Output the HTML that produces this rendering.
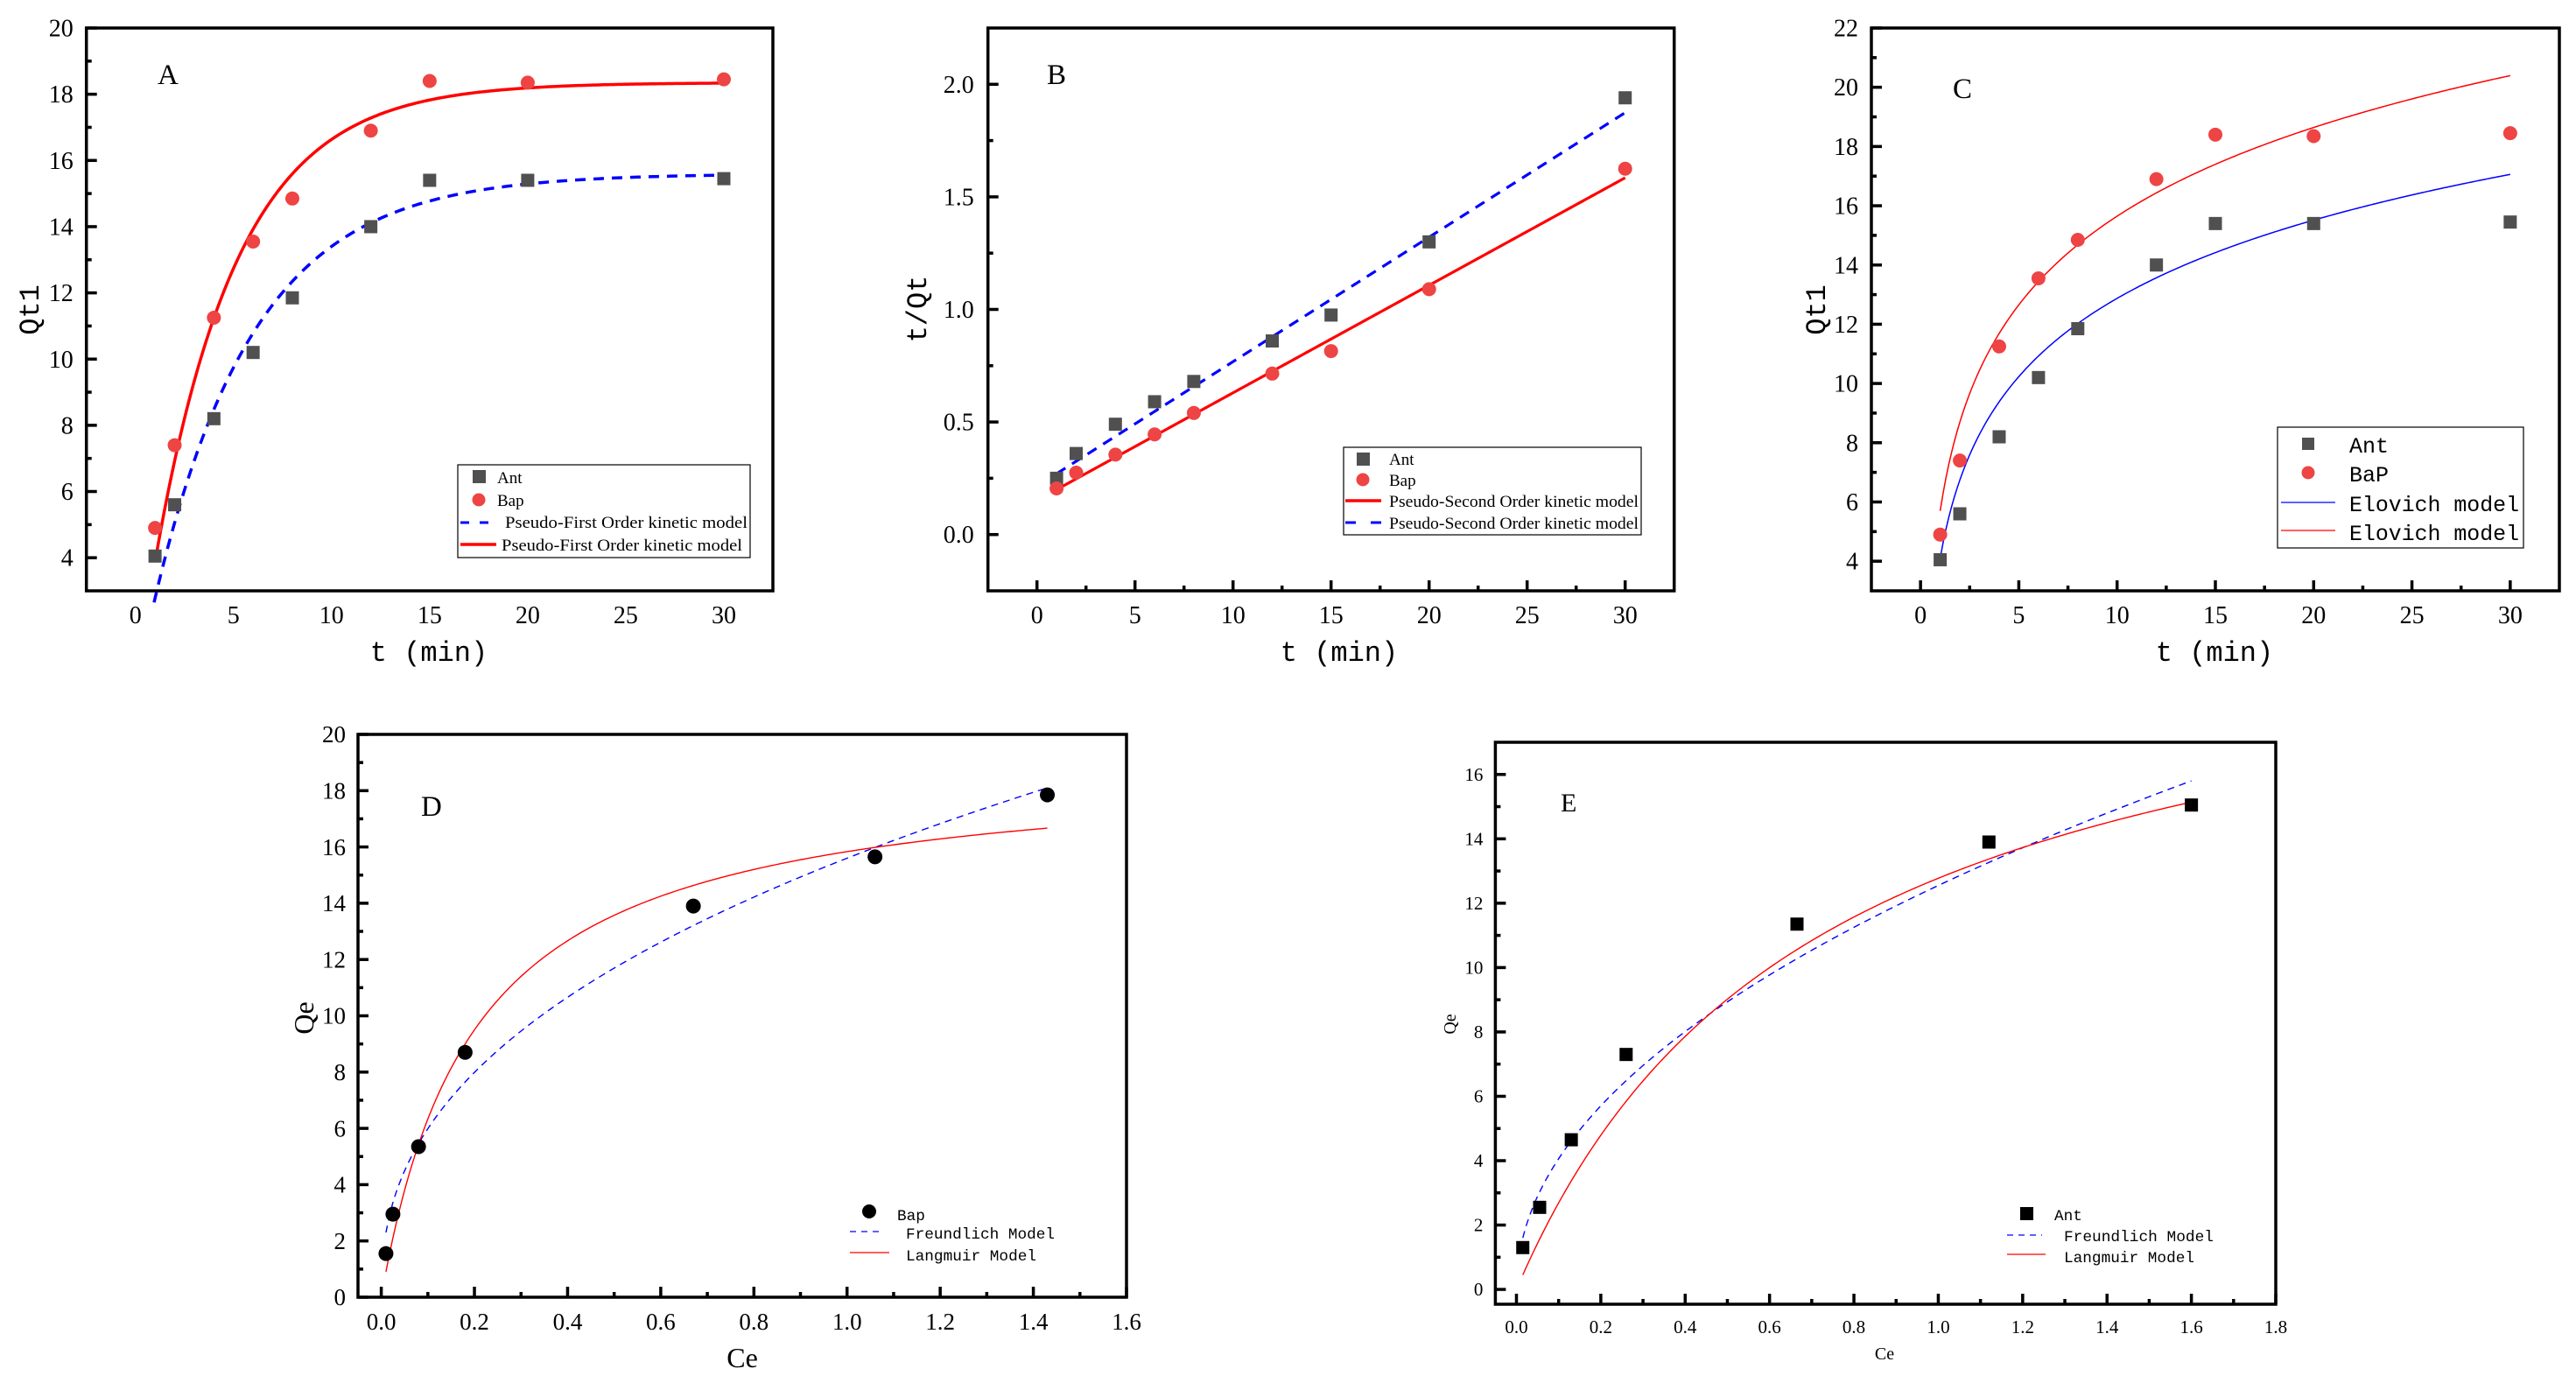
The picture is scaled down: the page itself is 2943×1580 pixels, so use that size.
<!DOCTYPE html>
<html><head><meta charset="utf-8">
<style>
html,body{margin:0;padding:0;background:#fff;}
svg{display:block;}
</style></head>
<body>
<svg id="fig" width="2943" height="1580" viewBox="0 0 2943 1580" xmlns="http://www.w3.org/2000/svg"></svg>
<script>
// ---------- data ----------
const timeMin = [1, 2, 4, 6, 8, 12, 15, 20, 30];
const antQt = [4.05, 5.6, 8.2, 10.2, 11.85, 14.0, 15.4, 15.4, 15.45];
const bapQt = [4.9, 7.4, 11.25, 13.55, 14.85, 16.9, 18.4, 18.35, 18.45];
const antTQt = [0.25, 0.36, 0.49, 0.59, 0.68, 0.86, 0.975, 1.30, 1.94];
const bapTQt = [0.205, 0.275, 0.355, 0.445, 0.54, 0.715, 0.815, 1.09, 1.625];
// model parameters
const pfoAnt = [15.6, 0.196];      // qe, k1
const pfoBap = [18.35, 0.237];
const psoAnt = [0.0553, 0.215];    // slope, intercept
const psoBap = [0.04776, 0.152];
const elovichAnt = [4.1, 3.81];    // a, b
const elovichBap = [5.7, 4.32];
const bapCe = [0.01, 0.025, 0.08, 0.18, 0.67, 1.06, 1.43];
const bapQe = [1.55, 2.95, 5.35, 8.7, 13.9, 15.65, 17.85];
const antCe = [0.015, 0.055, 0.13, 0.26, 0.665, 1.12, 1.6];
const antQe = [1.3, 2.55, 4.65, 7.3, 11.35, 13.9, 15.05];
const langBap = [19.0, 5.0];       // Qm, K
const freBap = [15.6, 0.4157];     // Kf, 1/n
const langAnt = [21.9, 1.4];
const freAnt = [12.55, 0.49];
const tickT = [0, 5, 10, 15, 20, 25, 30];
const tickA = [4, 6, 8, 10, 12, 14, 16, 18, 20];
const tickB = [0.0, 0.5, 1.0, 1.5, 2.0];
const tickC = [4, 6, 8, 10, 12, 14, 16, 18, 20, 22];
const tickDx = [0.0, 0.2, 0.4, 0.6, 0.8, 1.0, 1.2, 1.4, 1.6];
const tickDy = [0, 2, 4, 6, 8, 10, 12, 14, 16, 18, 20];
const tickEx = [0.0, 0.2, 0.4, 0.6, 0.8, 1.0, 1.2, 1.4, 1.6, 1.8];
const tickEy = [0, 2, 4, 6, 8, 10, 12, 14, 16];

const NS = 'http://www.w3.org/2000/svg';
const svg = document.getElementById('fig');
function mk(tag, attrs, parent){
  const e = document.createElementNS(NS, tag);
  for (const k in attrs) e.setAttribute(k, attrs[k]);
  (parent || svg).appendChild(e);
  return e;
}
function scale(d0, d1, r0, r1){ return v => r0 + (v - d0) * (r1 - r0) / (d1 - d0); }
function fmt(v, dec){ return dec ? v.toFixed(dec) : String(v); }

function axes(p){
  const g = mk('g', {});
  
  
  p.g = g;
  p.sx = scale(p.xd[0], p.xd[1], p.x0, p.x1);
  p.sy = scale(p.yd[0], p.yd[1], p.y1, p.y0);
  const fr = mk('rect', {x:p.x0, y:p.y0, width:p.x1-p.x0, height:p.y1-p.y0, fill:'none', stroke:'#000', 'stroke-width':p.bw}, g);
  
  
  // y ticks
  p.yt.forEach((v, i) => {
    const y = p.sy(v);
    mk('line', {x1:p.x0, x2:p.x0+p.tl, y1:y, y2:y, stroke:'#000', 'stroke-width':p.bw}, g);
    const t = mk('text', {x:p.x0-p.ylOff, y:y+p.fs*0.34, 'text-anchor':'end', 'font-family':'Liberation Serif, serif', 'font-size':p.fs}, g);
    t.textContent = fmt(v, p.ydec);
    
    
    if (i < p.yt.length - 1){
      const ym = p.sy((v + p.yt[i+1]) / 2);
      mk('line', {x1:p.x0, x2:p.x0+p.tl/2, y1:ym, y2:ym, stroke:'#000', 'stroke-width':p.bw}, g);
    }
  });
  p.xt.forEach((v, i) => {
    const x = p.sx(v);
    if (p.xticks){
      mk('line', {x1:x, x2:x, y1:p.y1, y2:p.y1-p.tl, stroke:'#000', 'stroke-width':p.bw}, g);
      if (i < p.xt.length - 1){
        const xm = p.sx((v + p.xt[i+1]) / 2);
        mk('line', {x1:xm, x2:xm, y1:p.y1, y2:p.y1-p.tl/2, stroke:'#000', 'stroke-width':p.bw}, g);
      }
    }
    const t = mk('text', {x:x, y:p.xlBase, 'text-anchor':'middle', 'font-family':'Liberation Serif, serif', 'font-size':p.fs}, g);
    t.textContent = fmt(v, p.xdec);
    
    
  });
  const xt = mk('text', {x:p.xtX, y:p.xtY, 'text-anchor':'middle', 'font-family':p.titleFont, 'font-size':p.tfs}, g);
  xt.textContent = p.xtitle;
  
  
  const yt = mk('text', {x:0, y:0, 'text-anchor':'middle', 'font-family':p.titleFont, 'font-size':p.tfs, transform:'translate('+p.ytX+','+p.ytY+') rotate(-90)'}, g);
  yt.textContent = p.ytitle;
  
  
  const pl = mk('text', {x:p.plX, y:p.plY, 'font-family':'Liberation Serif, serif', 'font-size':p.plS}, g);
  pl.textContent = p.label;
  
  
  return p;
}
function curve(p, f, xa, xb, attrs, name){
  let d = '';
  for (let i = 0; i <= 200; i++){
    const x = xa + (xb - xa) * i / 200;
    d += (i ? 'L' : 'M') + p.sx(x).toFixed(2) + ',' + p.sy(f(x)).toFixed(2);
  }
  const e = mk('path', Object.assign({d:d, fill:'none'}, attrs), p.g);
  
  
}
function points(p, xs, ys, shape, size, color, name){
  xs.forEach((x, i) => {
    const cx = p.sx(x), cy = p.sy(ys[i]);
    let e;
    if (shape === 's') e = mk('rect', {x:cx-size/2, y:cy-size/2, width:size, height:size, fill:color}, p.g);
    else e = mk('circle', {cx:cx, cy:cy, r:size/2, fill:color}, p.g);
    
    
  });
}
function legendText(g, x, y, s, txt, font, len){
  const t = mk('text', {x:x, y:y, 'font-family':font, 'font-size':s}, g);
  if (len) { t.setAttribute('textLength', len); t.setAttribute('lengthAdjust', 'spacingAndGlyphs'); }
  t.textContent = txt;
  
  
}
const GRAY = '#505050', RED = '#ee4444';
const serif = 'Liberation Serif, serif', mono = 'Liberation Mono, monospace';

// ---------- Panel A ----------
const A = axes({name:'panel-a-pseudo-first-order', x0:98.7, x1:883, y0:32, y1:675, xd:[-2.5,32.5], yd:[3,20],
  xt:tickT, yt:tickA, xticks:false, bw:3.5, tl:12, fs:28, ylOff:15, xlBase:712,
  xtitle:'t (min)', ytitle:'Qt1', titleFont:mono, tfs:32, xtX:490, xtY:755, ytX:44, ytY:354,
  label:'A', plX:180, plY:96, plS:33});
curve(A, t => pfoAnt[0]*(1-Math.exp(-pfoAnt[1]*t)), 0.95, 30, {stroke:'#0000ff','stroke-width':3.5,'stroke-dasharray':'12,9'}, 'ant-pseudo-first-order-fit');
curve(A, t => pfoBap[0]*(1-Math.exp(-pfoBap[1]*t)), 1, 30, {stroke:'#ff0000','stroke-width':3.5}, 'bap-pseudo-first-order-fit');
points(A, timeMin, antQt, 's', 15, GRAY, 'ant-point');
points(A, timeMin, bapQt, 'c', 16, RED, 'bap-point');
(function(){
  const g = mk('g', {}, A.g);
  
  
  mk('rect', {x:523, y:531, width:334, height:106, fill:'#fff', stroke:'#000', 'stroke-width':1.2}, g);
  mk('rect', {x:540, y:537, width:15, height:15, fill:GRAY}, g);
  mk('circle', {cx:547, cy:571, r:7.5, fill:RED}, g);
  mk('line', {x1:526, x2:563, y1:597, y2:597, stroke:'#0000ff', 'stroke-width':3, 'stroke-dasharray':'10,12'}, g);
  mk('line', {x1:526, x2:567, y1:622, y2:622, stroke:'#ff0000', 'stroke-width':3.5}, g);
  legendText(g, 568, 552, 19, 'Ant', serif);
  legendText(g, 568, 578, 19, 'Bap', serif);
  legendText(g, 577, 603, 19, 'Pseudo-First Order kinetic model', serif, 277);
  legendText(g, 573, 629, 19, 'Pseudo-First Order kinetic model', serif, 275);
})();

// ---------- Panel B ----------
const B = axes({name:'panel-b-pseudo-second-order', x0:1128.7, x1:1912.7, y0:32, y1:675, xd:[-2.5,32.5], yd:[-0.25,2.25],
  xt:tickT, yt:tickB, xticks:true, bw:3.5, tl:12, fs:28, ylOff:16, xlBase:712, ydec:1,
  xtitle:'t (min)', ytitle:'t/Qt', titleFont:mono, tfs:32, xtX:1530, xtY:755, ytX:1058, ytY:353,
  label:'B', plX:1196, plY:96, plS:33});
curve(B, t => psoAnt[0]*t + psoAnt[1], 1, 30, {stroke:'#0000ff','stroke-width':3.2,'stroke-dasharray':'12,9'}, 'ant-pseudo-second-order-fit');
curve(B, t => psoBap[0]*t + psoBap[1], 1, 30, {stroke:'#ff0000','stroke-width':3.2}, 'bap-pseudo-second-order-fit');
points(B, timeMin, antTQt, 's', 15, GRAY, 'ant-point');
points(B, timeMin, bapTQt, 'c', 16, RED, 'bap-point');
(function(){
  const g = mk('g', {}, B.g);
  
  
  mk('rect', {x:1535, y:511, width:340, height:100, fill:'#fff', stroke:'#000', 'stroke-width':1.2}, g);
  mk('rect', {x:1550, y:517, width:15, height:15, fill:GRAY}, g);
  mk('circle', {cx:1557, cy:548, r:7.5, fill:RED}, g);
  mk('line', {x1:1537, x2:1578, y1:572, y2:572, stroke:'#ff0000', 'stroke-width':3.5}, g);
  mk('line', {x1:1537, x2:1578, y1:597, y2:597, stroke:'#0000ff', 'stroke-width':3, 'stroke-dasharray':'12,17'}, g);
  legendText(g, 1587, 531, 19, 'Ant', serif);
  legendText(g, 1587, 555, 19, 'Bap', serif);
  legendText(g, 1587, 579, 19, 'Pseudo-Second Order kinetic model', serif, 285);
  legendText(g, 1587, 604, 19, 'Pseudo-Second Order kinetic model', serif, 285);
})();

// ---------- Panel C ----------
const C = axes({name:'panel-c-elovich', x0:2138, x1:2924, y0:32, y1:675, xd:[-2.5,32.5], yd:[3,22],
  xt:tickT, yt:tickC, xticks:true, bw:3.5, tl:12, fs:28, ylOff:15, xlBase:712,
  xtitle:'t (min)', ytitle:'Qt1', titleFont:mono, tfs:32, xtX:2530, xtY:755, ytX:2085, ytY:354,
  label:'C', plX:2231, plY:112, plS:33});
curve(C, t => elovichAnt[0] + elovichAnt[1]*Math.log(t), 1, 30, {stroke:'#0000ff','stroke-width':1.5}, 'ant-elovich-fit');
curve(C, t => elovichBap[0] + elovichBap[1]*Math.log(t), 1, 30, {stroke:'#ff0000','stroke-width':1.5}, 'bap-elovich-fit');
points(C, timeMin, antQt, 's', 15, GRAY, 'ant-point');
points(C, timeMin, bapQt, 'c', 16, RED, 'bap-point');
(function(){
  const g = mk('g', {}, C.g);
  
  
  mk('rect', {x:2602, y:488, width:281, height:138, fill:'#fff', stroke:'#000', 'stroke-width':1.2}, g);
  mk('rect', {x:2630, y:500, width:14, height:14, fill:GRAY}, g);
  mk('circle', {cx:2637, cy:540, r:7.5, fill:RED}, g);
  mk('line', {x1:2606, x2:2668, y1:574, y2:574, stroke:'#0000ff', 'stroke-width':1.3}, g);
  mk('line', {x1:2606, x2:2668, y1:606, y2:606, stroke:'#ff0000', 'stroke-width':1.3}, g);
  legendText(g, 2684, 517, 25, 'Ant', mono);
  legendText(g, 2684, 550, 25, 'BaP', mono);
  legendText(g, 2684, 584, 25, 'Elovich model', mono, 194);
  legendText(g, 2684, 617, 25, 'Elovich model', mono, 194);
})();

// ---------- Panel D ----------
const D = axes({name:'panel-d-bap-isotherm', x0:409, x1:1287, y0:839, y1:1482, xd:[-0.05,1.6], yd:[0,20],
  xt:tickDx, yt:tickDy, xticks:true, bw:3.5, tl:12, fs:27, ylOff:14, xlBase:1519, xdec:1,
  xtitle:'Ce', ytitle:'Qe', titleFont:serif, tfs:32, xtX:848, xtY:1562, ytX:358, ytY:1163,
  label:'D', plX:481, plY:932, plS:33});
curve(D, c => freBap[0]*Math.pow(c, freBap[1]), 0.01, 1.43, {stroke:'#0000ff','stroke-width':1.4,'stroke-dasharray':'8,6'}, 'freundlich-fit');
curve(D, c => langBap[0]*langBap[1]*c/(1+langBap[1]*c), 0.01, 1.43, {stroke:'#ff0000','stroke-width':1.4}, 'langmuir-fit');
points(D, bapCe, bapQe, 'c', 17, '#000', 'bap-point');
(function(){
  const g = mk('g', {}, D.g);
  
  
  mk('circle', {cx:993, cy:1384, r:8, fill:'#000'}, g);
  mk('line', {x1:971, x2:1010, y1:1407, y2:1407, stroke:'#0000ff', 'stroke-width':1.3, 'stroke-dasharray':'7,6'}, g);
  mk('line', {x1:971, x2:1016, y1:1431, y2:1431, stroke:'#ff0000', 'stroke-width':1.3}, g);
  legendText(g, 1025, 1394, 17.7, 'Bap', mono);
  legendText(g, 1035, 1415, 17.7, 'Freundlich Model', mono, 170);
  legendText(g, 1035, 1440, 17.7, 'Langmuir Model', mono, 149);
})();

// ---------- Panel E ----------
const E = axes({name:'panel-e-ant-isotherm', x0:1708.4, x1:2600, y0:848, y1:1490, xd:[-0.05,1.8], yd:[-0.46,17],
  xt:tickEx, yt:tickEy, xticks:true, bw:3.5, tl:12, fs:21, ylOff:14, xlBase:1523, xdec:1,
  xtitle:'Ce', ytitle:'Qe', titleFont:serif, tfs:20, xtX:2153, xtY:1553, ytX:1663, ytY:1170,
  label:'E', plX:1783, plY:927, plS:30});
curve(E, c => freAnt[0]*Math.pow(c, freAnt[1]), 0.015, 1.6, {stroke:'#0000ff','stroke-width':1.4,'stroke-dasharray':'8,6'}, 'freundlich-fit');
curve(E, c => langAnt[0]*langAnt[1]*c/(1+langAnt[1]*c), 0.015, 1.6, {stroke:'#ff0000','stroke-width':1.4}, 'langmuir-fit');
points(E, antCe, antQe, 's', 15, '#000', 'ant-point');
(function(){
  const g = mk('g', {}, E.g);
  
  
  mk('rect', {x:2308, y:1379, width:15, height:15, fill:'#000'}, g);
  mk('line', {x1:2293, x2:2333, y1:1411, y2:1411, stroke:'#0000ff', 'stroke-width':1.3, 'stroke-dasharray':'7,6'}, g);
  mk('line', {x1:2293, x2:2337, y1:1433, y2:1433, stroke:'#ff0000', 'stroke-width':1.3}, g);
  legendText(g, 2347, 1394, 17.7, 'Ant', mono);
  legendText(g, 2358, 1418, 17.7, 'Freundlich Model', mono, 171);
  legendText(g, 2358, 1442, 17.7, 'Langmuir Model', mono, 149);
})();
</script>
</body></html>
